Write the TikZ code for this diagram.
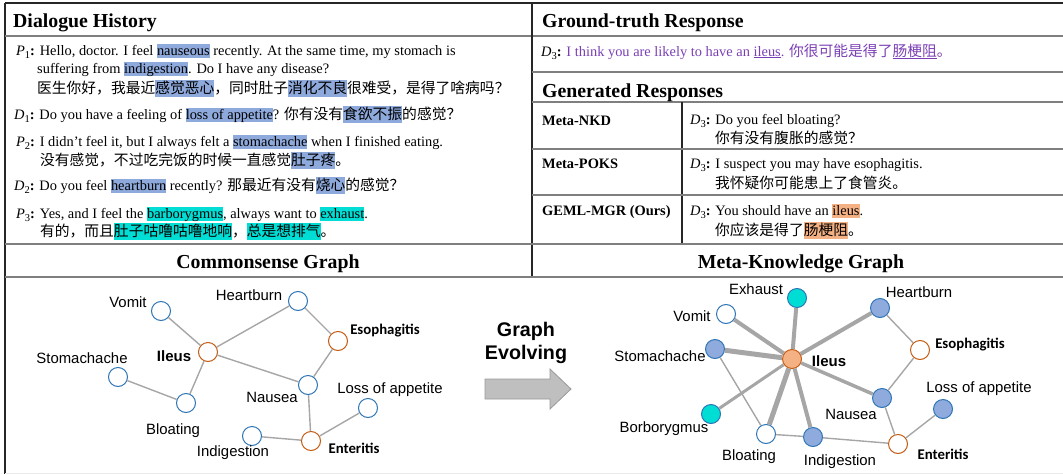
\documentclass[tikz,border=0pt]{standalone}
\usepackage{fontspec}
\setmainfont{Liberation Serif}
\setsansfont{Liberation Sans}
\newfontfamily\cjk[Scale=1.025]{Noto Sans CJK SC}
\newfontfamily\calibri{Carlito}
\usepackage{xcolor}
\usetikzlibrary{calc}

\definecolor{hlblue}{HTML}{8EA9DB}
\definecolor{hlcyan}{HTML}{00DDD4}
\definecolor{hlorange}{HTML}{F4B183}
\definecolor{gtpurple}{HTML}{7B3FB5}
\definecolor{symblue}{HTML}{2E75B6}
\definecolor{symfill}{HTML}{8FAADC}
\definecolor{disorange}{HTML}{C55A11}
\definecolor{edgegray}{HTML}{A6A6A6}
\definecolor{rulegray}{HTML}{7F7F7F}

\newcommand{\hlbox}[2]{{\setlength{\fboxsep}{0pt}\colorbox{#1}{\rule[-2.5pt]{0pt}{14pt}#2}}}
\newcommand{\hlcjk}[2]{{\setlength{\fboxsep}{0pt}\colorbox{#1}{\rule[-3.5pt]{0pt}{17pt}#2}}}
\newcommand{\spk}[2]{\textit{#1}\raisebox{-3pt}{\fontsize{10.5}{11}\selectfont #2}\textbf{:}}

\tikzset{
  txt/.style={anchor=base west, inner sep=0pt, font=\fontsize{14.4}{17}\selectfont},
  head/.style={anchor=base west, inner sep=0pt, font=\fontsize{19.8}{22}\selectfont\bfseries},
  rule/.style={draw=rulegray, line width=1.4pt},
  ruledark/.style={draw=black!85, line width=1.4pt},
  sym/.style={circle, draw=symblue, fill=white, line width=1pt, minimum size=19pt, inner sep=0pt},
  symfilled/.style={sym, fill=symfill},
  symcyan/.style={sym, fill=hlcyan},
  dis/.style={sym, draw=disorange},
  disfilled/.style={dis, fill=hlorange},
  glabel/.style={inner sep=0pt, font=\sffamily\fontsize{14.9}{16}\selectfont},
  edge/.style={draw=edgegray, line width=1.4pt},
  wedge/.style={draw=edgegray, line width=#1},
}

\begin{document}
\begin{tikzpicture}[x=1pt, y=-1pt]
    \path [use as bounding box] (0,0) rectangle (1063,474);

    \newcommand{\gnode}[5]{
      \node[#1] (#2) at (#3) {};
      \node[glabel] (#2-lab) at (#4) {#5};
    }
    \newcommand{\bold}[1]{{\calibri\bfseries\fontsize{14.8}{16}\selectfont #1}}

    % table rules
    \draw[ruledark] (5,3) -- (1063,3);
    \draw[ruledark] (5,3) -- (5,474);
    \draw[rule] (5,36) -- (1063,36);
    \draw[ruledark] (532,3) -- (532,277);
    \draw[rule] (532,72) -- (1063,72);
    \draw[rule] (532,102) -- (1063,102);
    \draw[ruledark] (682,102) -- (682,244);
    \draw[rule] (532,149) -- (1063,149);
    \draw[rule] (532,195) -- (1063,195);
    \draw[rule] (5,244) -- (1063,244);
    \draw[rule] (5,277) -- (1063,277);
    \draw[black!8, line width=1pt] (5,473.5) -- (1063,473.5);

    % dialogue history
    \node[head] (dh) at (13,27) {Dialogue History};
    \node[txt] (p1a) at (16,55) {\spk{P}{1} Hello, doctor. I feel \hlbox{hlblue}{nauseous} recently. At the same time, my stomach is};
    \node[txt] (p1b) at (37,73) {suffering from \hlbox{hlblue}{indigestion}. Do I have any disease?};
    \node[txt] (p1c) at (37,93) {\cjk 医生你好，我最近\hlcjk{hlblue}{感觉恶心}，同时肚子\hlcjk{hlblue}{消化不良}很难受，是得了啥病吗？};
    \node[txt] (d1) at (14,119) {\spk{D}{1} Do you have a feeling of \hlbox{hlblue}{loss of appetite}? {\cjk 你有没有\hlcjk{hlblue}{食欲不振}的感觉？}};
    \node[txt] (p2a) at (16,146) {\spk{P}{2} I didn't feel it, but I always felt a \hlbox{hlblue}{stomachache} when I finished eating.};
    \node[txt] (p2b) at (40,165) {\cjk 没有感觉，不过吃完饭的时候一直感觉\hlcjk{hlblue}{肚子疼}。};
    \node[txt] (d2) at (14,190) {\spk{D}{2} Do you feel \hlbox{hlblue}{heartburn} recently? {\cjk 那最近有没有\hlcjk{hlblue}{烧心}的感觉？}};
    \node[txt] (p3a) at (16,218) {\spk{P}{3} Yes, and I feel the \hlbox{hlcyan}{barborygmus}, always want to \hlbox{hlcyan}{exhaust}.};
    \node[txt] (p3b) at (40,236) {\cjk 有的，而且\hlcjk{hlcyan}{肚子咕噜咕噜地响}，\hlcjk{hlcyan}{总是想排气}。};

    % responses
    \node[head] (gt) at (542,27) {Ground-truth Response};
    \node[txt] (gtd3) at (541,56) {\spk{D}{3} \textcolor{gtpurple}{I think you are likely to have an \underline{ileus}. {\cjk 你很可能是得了\underline{肠梗阻}。}}};
    \node[head] (gr) at (542,97) {Generated Responses};
    \node[txt, font=\fontsize{14.4}{17}\selectfont\bfseries] (nkd) at (542,125) {Meta-NKD};
    \node[txt] (nkda) at (690,124) {\spk{D}{3} Do you feel bloating?};
    \node[txt] (nkdb) at (715,143) {\cjk 你有没有腹胀的感觉？};
    \node[txt, font=\fontsize{14.4}{17}\selectfont\bfseries] (poks) at (542,168) {Meta-POKS};
    \node[txt] (poksa) at (690,168) {\spk{D}{3} I suspect you may have esophagitis.};
    \node[txt] (poksb) at (715,188) {\cjk 我怀疑你可能患上了食管炎。};
    \node[txt, font=\fontsize{14.4}{17}\selectfont\bfseries] (geml) at (542,215) {GEML-MGR (Ours)};
    \node[txt] (gemla) at (690,215) {\spk{D}{3} You should have an \hlbox{hlorange}{ileus}.};
    \node[txt] (gemlb) at (715,235) {\cjk 你应该是得了\hlcjk{hlorange}{肠梗阻}。};

    % graph titles
    \node[head, anchor=base] (cg) at (268,268) {Commonsense Graph};
    \node[head, anchor=base] (mkg) at (801,268) {Meta-Knowledge Graph};

    % commonsense graph
    \gnode{sym}{c-vomit}{161,311}{128,302}{Vomit}
    \gnode{sym}{c-heart}{298,301}{249,295}{Heartburn}
    \gnode{dis}{c-esoph}{338,341}{385,331}{\bold{Esophagitis}}
    \gnode{dis}{c-ileus}{208,352}{174,356}{\bfseries\fontsize{15}{16}\selectfont Ileus}
    \gnode{sym}{c-stom}{118,377}{82,358}{Stomachache}
    \gnode{sym}{c-bloat}{186,403}{173,431}{Bloating}
    \gnode{sym}{c-nausea}{308,385}{272,397}{Nausea}
    \gnode{sym}{c-loss}{368,408}{390,390}{Loss of appetite}
    \gnode{sym}{c-indig}{252,436}{233,453}{Indigestion}
    \gnode{dis}{c-enter}{311,441}{354,448}{\bold{Enteritis}}

    \draw[edge] (c-vomit) -- (c-ileus);
    \draw[edge] (c-ileus) -- (c-heart);
    \draw[edge] (c-heart) -- (c-esoph);
    \draw[edge] (c-esoph) -- (c-nausea);
    \draw[edge] (c-ileus) -- (c-nausea);
    \draw[edge] (c-ileus) -- (c-bloat);
    \draw[edge] (c-stom) -- (c-bloat);
    \draw[edge] (c-nausea) -- (c-enter);
    \draw[edge] (c-indig) -- (c-enter);
    \draw[edge] (c-enter) -- (c-loss);

    % evolving arrow
    \node[inner sep=0pt, align=center, font=\sffamily\bfseries\fontsize{19.7}{23}\selectfont] (evolve) at (526,343) {Graph\\Evolving};
    \path[fill=black!25, draw=black!40, line width=0.8pt]
      (485,379) -- (550,379) -- (550,369) -- (571,389) -- (550,409) -- (550,399) -- (485,399) -- cycle;

    % meta-knowledge graph
    \gnode{symcyan}{m-exhaust}{797,298}{756,289}{Exhaust}
    \gnode{sym}{m-vomit}{726,314}{692,316}{Vomit}
    \gnode{symfilled}{m-heart}{880,308}{919,292}{Heartburn}
    \gnode{symfilled}{m-stom}{715,349}{660,356}{Stomachache}
    \gnode{disfilled}{m-ileus}{792,359}{829,361}{\bfseries\fontsize{15}{16}\selectfont Ileus}
    \gnode{dis}{m-esoph}{920,350}{970,345}{\bold{Esophagitis}}
    \gnode{symfilled}{m-nausea}{882,398}{851,414}{Nausea}
    \gnode{symfilled}{m-loss}{943,409}{979,389}{Loss of appetite}
    \gnode{symcyan}{m-borb}{711,414}{664,429}{Borborygmus}
    \gnode{sym}{m-bloat}{766,434}{749,457}{Bloating}
    \gnode{symfilled}{m-indig}{813,437}{840,462}{Indigestion}
    \gnode{dis}{m-enter}{898,444}{943,454}{\bold{Enteritis}}

    \draw[wedge=4pt] (m-ileus) -- (m-exhaust);
    \draw[wedge=4pt] (m-ileus) -- (m-vomit);
    \draw[wedge=4pt] (m-ileus) -- (m-heart);
    \draw[wedge=5pt] (m-ileus) -- (m-stom);
    \draw[wedge=3pt] (m-ileus) -- (m-borb);
    \draw[wedge=5pt] (m-ileus) -- (m-bloat);
    \draw[wedge=4pt] (m-ileus) -- (m-indig);
    \draw[wedge=3.5pt] (m-ileus) -- (m-nausea);
    \draw[edge] (m-heart) -- (m-esoph);
    \draw[edge] (m-esoph) -- (m-nausea);
    \draw[edge] (m-nausea) -- (m-enter);
    \draw[edge] (m-enter) -- (m-loss);
    \draw[edge] (m-stom) -- (m-bloat);
    \draw[edge] (m-bloat) -- (m-indig);
    \draw[edge] (m-indig) -- (m-enter);

\end{tikzpicture}
\end{document}
